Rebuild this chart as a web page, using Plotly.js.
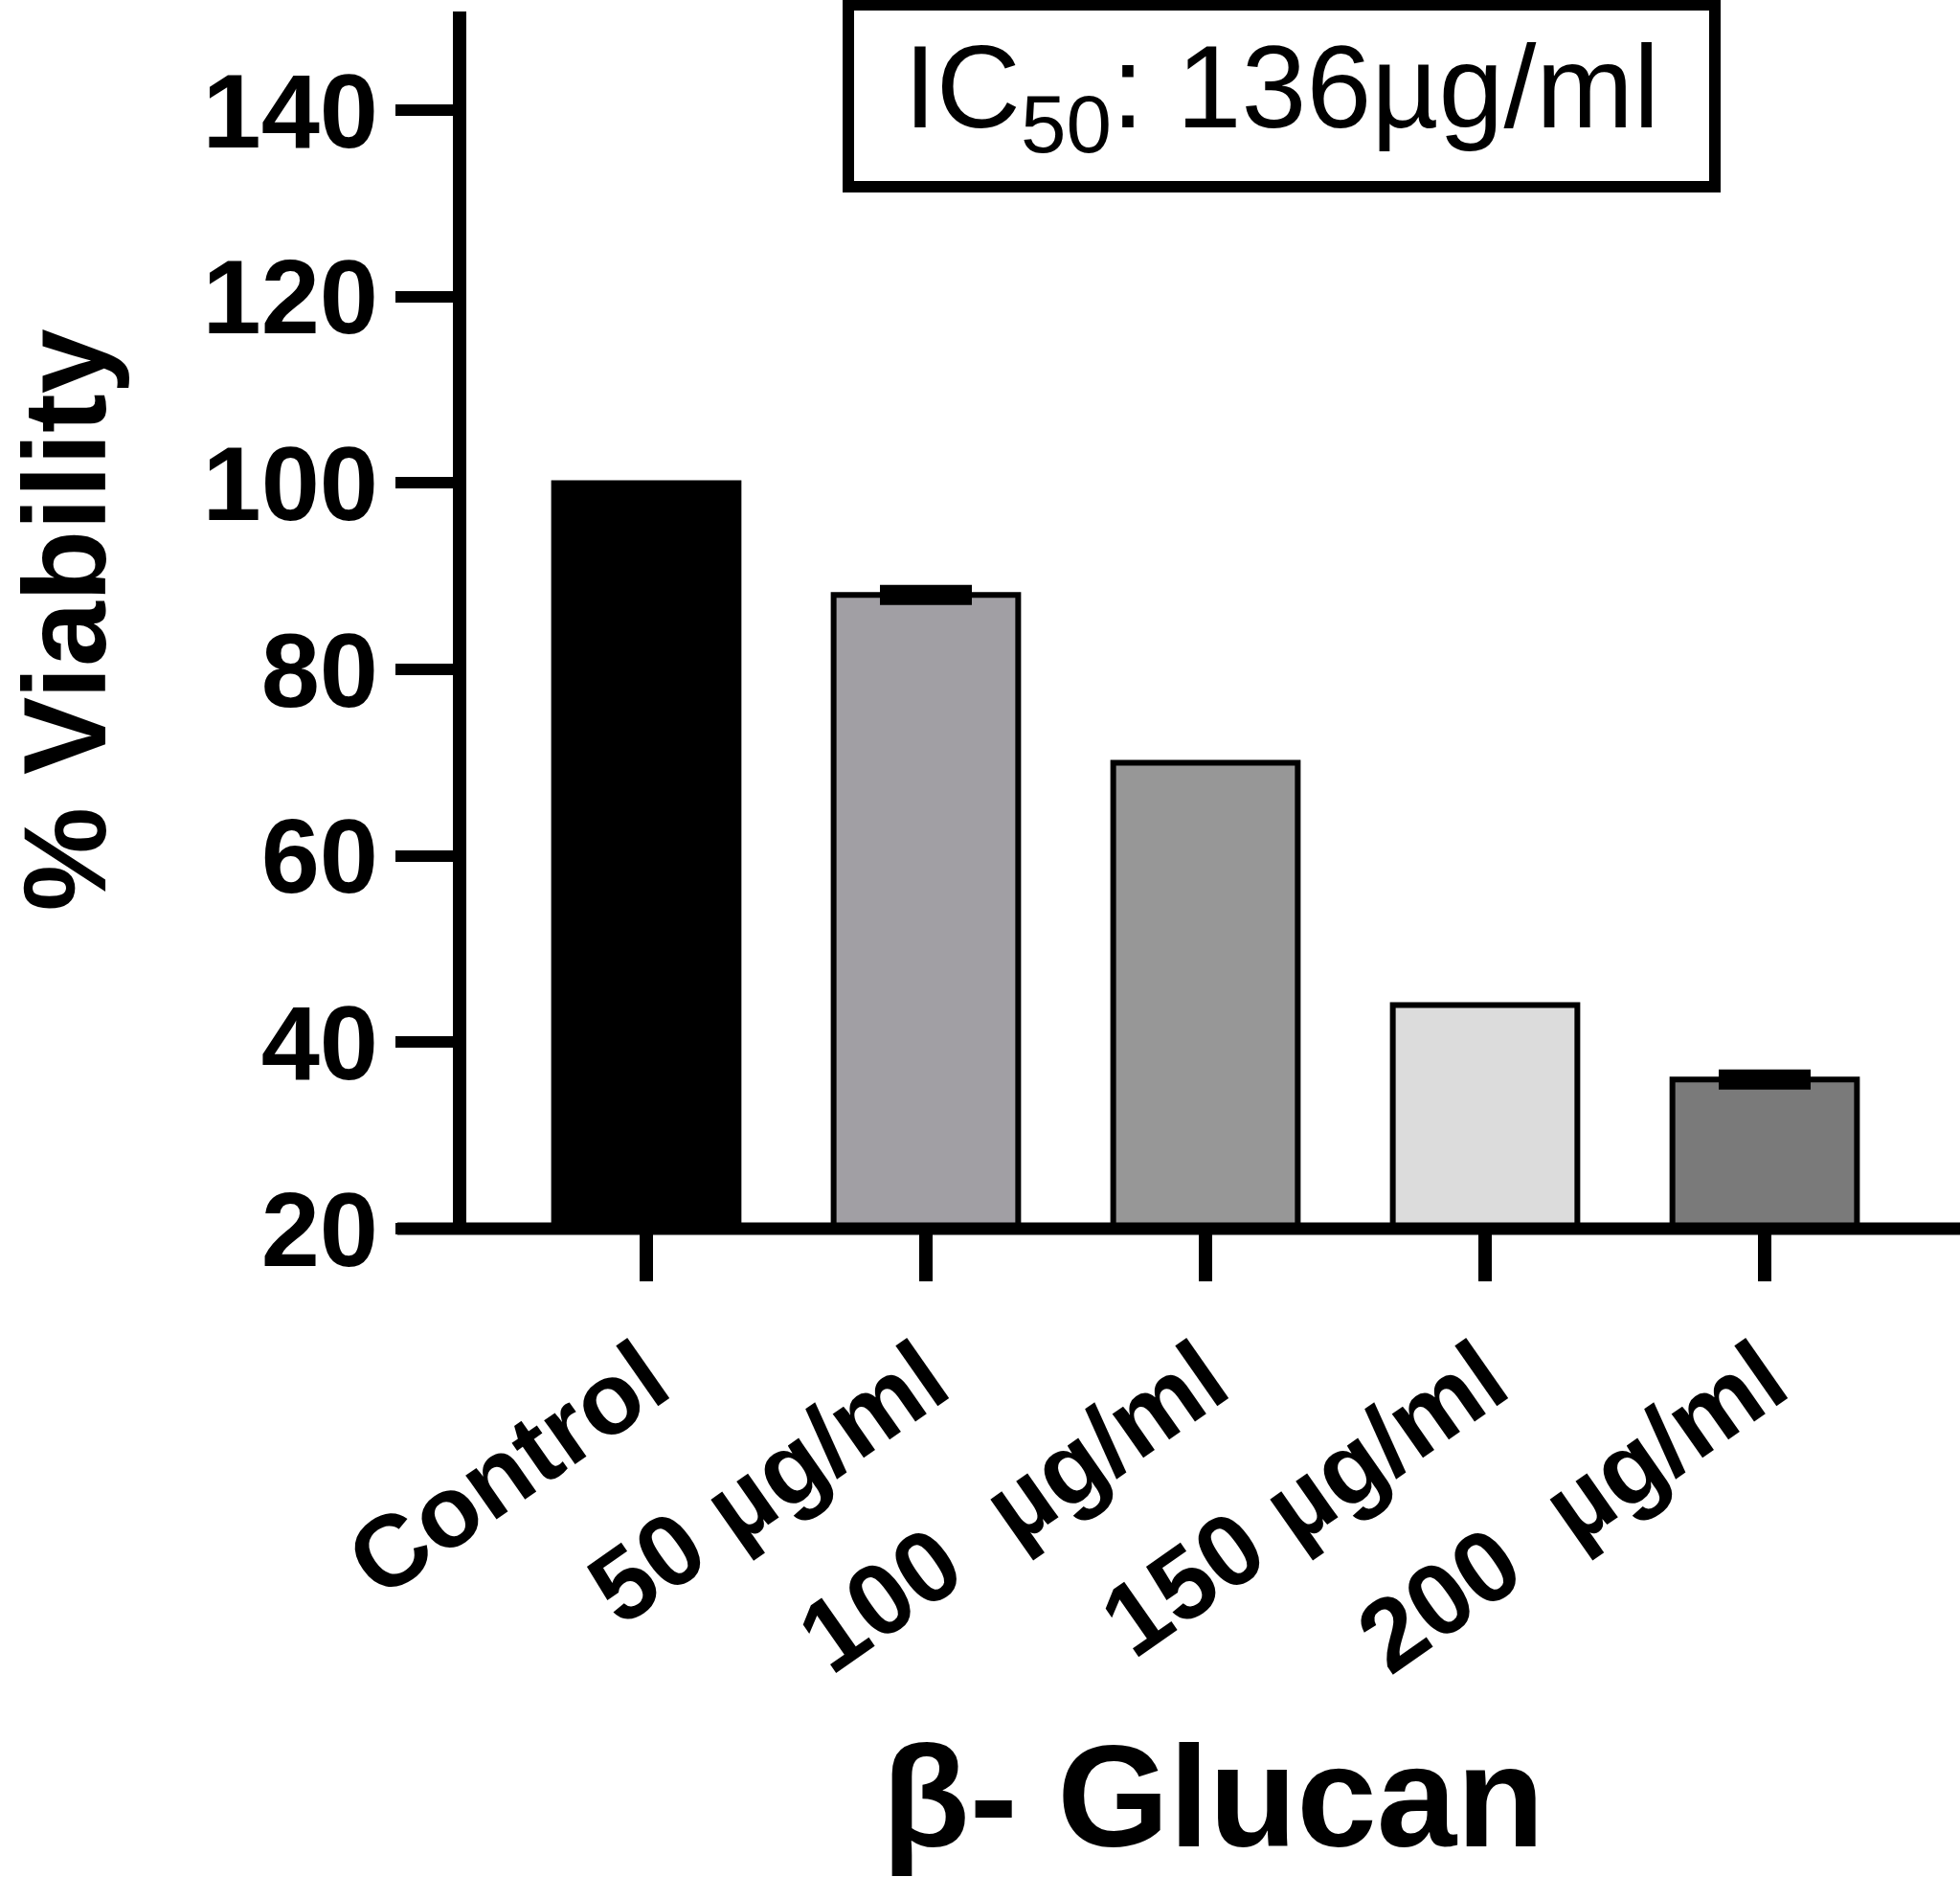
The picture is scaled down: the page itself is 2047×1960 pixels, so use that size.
<!DOCTYPE html>
<html>
<head>
<meta charset="utf-8">
<script src="https://cdn.plot.ly/plotly-3.0.1.min.js"></script>
<style>html,body{margin:0;padding:0;background:#fff;}#chart{width:2047px;height:1960px;}</style>
</head>
<body>
<div id="chart"></div>
<script>
// ---- data ----
var categories = ["Control", "50 µg/ml", "100 \u00a0µg/ml", "150 µg/ml", "200 \u00a0µg/ml"];
var viability = [100, 88, 70, 44, 36];
var viabilityError = [NaN, 0.15, NaN, NaN, 0.15];
var barColors = ["#000000", "#a19fa4", "#979797", "#dcdcdc", "#7a7a7a"];
var yTickValues = [20, 40, 60, 80, 100, 120, 140];
var yTickLabels = ["20", "40", "60", "80", "100", "120", "140"];
var icText = "IC<sub>50</sub>: 136µg/ml";
var yTitle = "% Viability";
var xTitle = "β- Glucan";

var FONT = "Arial, 'Liberation Sans', sans-serif";

var trace = {
  type: "bar",
  x: categories,
  y: viability,
  width: 0.66,
  marker: { color: barColors, line: { color: "#000", width: 6 } },
  error_y: { type: "data", array: viabilityError, visible: true, color: "#000", thickness: 18, width: 48 },
  hoverinfo: "x+y"
};

var layout = {
  width: 2047,
  height: 1960,
  margin: { l: 487, r: 0, t: 12, b: 677, pad: 0 },
  paper_bgcolor: "#fff",
  plot_bgcolor: "#fff",
  showlegend: false,
  font: { family: FONT, color: "#000" },
  xaxis: {
    type: "category",
    range: [-0.6438, 4.6986],
    showline: false,
    ticks: "outside", ticklen: 54, tickwidth: 14, tickcolor: "#000",
    tickangle: -35,
    tickfont: { family: FONT, size: 106, color: "#000", weight: "bold" },
    showgrid: false, zeroline: false,
    automargin: false,
    title: { text: xTitle, font: { family: FONT, size: 150, color: "#000", weight: "bold" }, standoff: 64 }
  },
  yaxis: {
    range: [20, 150.6],
    tickvals: yTickValues, ticktext: yTickLabels,
    showline: true, linecolor: "#000", linewidth: 14,
    ticks: "outside", ticklen: 60, tickwidth: 12, tickcolor: "#000",
    ticklabelstandoff: -4,
    tickfont: { family: FONT, size: 110, color: "#000", weight: "bold" },
    showgrid: false, zeroline: false,
    automargin: false,
    title: { text: yTitle, font: { family: FONT, size: 122, color: "#000", weight: "bold" }, standoff: 108 }
  },
  annotations: [{
    xref: "paper", yref: "paper",
    x: 0.5458, y: 0.931, xanchor: "center", yanchor: "middle",
    text: icText, showarrow: false,
    font: { family: FONT, size: 122, color: "#000" },
    width: 893, height: 178,
    bordercolor: "#000", borderwidth: 12, borderpad: 0, bgcolor: "#fff"
  }],
  shapes: [{
    type: "line", xref: "paper", yref: "paper",
    x0: -0.04615, x1: 1, y0: 0, y1: 0,
    line: { color: "#000", width: 13 }
  }]
};

Plotly.newPlot("chart", [trace], layout, { displayModeBar: false, staticPlot: true });
</script>
</body>
</html>
